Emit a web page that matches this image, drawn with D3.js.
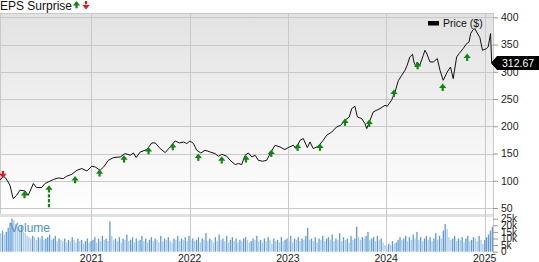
<!DOCTYPE html>
<html><head><meta charset="utf-8">
<script src="https://cdn.jsdelivr.net/npm/d3@7"></script>
<style>body{margin:0;background:#fff;} svg{display:block;font-family:"Liberation Sans",Arial,sans-serif;}</style>
</head><body><svg id="c" width="539" height="262"></svg>
<script>
const priceDates = ["2020-01-27","2020-02-08","2020-02-18","2020-03-04","2020-03-16","2020-03-29","2020-04-10","2020-04-29","2020-05-11","2020-05-30","2020-06-11","2020-06-30","2020-07-12","2020-07-24","2020-08-12","2020-08-30","2020-09-18","2020-10-01","2020-10-20","2020-11-08","2020-11-26","2020-12-15","2021-01-02","2021-01-15","2021-02-02","2021-02-15","2021-03-05","2021-03-24","2021-04-18","2021-05-06","2021-05-25","2021-06-06","2021-06-16","2021-07-01","2021-07-26","2021-08-13","2021-08-26","2021-09-13","2021-10-02","2021-10-20","2021-11-08","2021-11-24","2021-12-09","2021-12-21","2022-01-02","2022-01-15","2022-01-27","2022-02-11","2022-02-27","2022-03-18","2022-04-05","2022-04-18","2022-04-30","2022-05-19","2022-05-31","2022-06-19","2022-07-01","2022-07-13","2022-07-26","2022-08-07","2022-08-20","2022-09-01","2022-09-13","2022-09-29","2022-10-14","2022-10-27","2022-11-14","2022-12-03","2022-12-21","2023-01-02","2023-01-21","2023-01-31","2023-02-15","2023-02-27","2023-03-14","2023-03-24","2023-04-05","2023-04-24","2023-05-12","2023-05-25","2023-06-13","2023-07-01","2023-07-16","2023-08-01","2023-08-17","2023-08-26","2023-09-07","2023-09-16","2023-10-02","2023-10-14","2023-10-21","2023-11-02","2023-11-14","2023-12-09","2023-12-28","2024-01-05","2024-01-21","2024-02-03","2024-02-15","2024-02-28","2024-03-11","2024-03-19","2024-03-29","2024-04-08","2024-04-13","2024-04-21","2024-04-25","2024-05-05","2024-05-18","2024-05-24","2024-05-30","2024-06-12","2024-06-24","2024-07-09","2024-07-19","2024-07-31","2024-08-15","2024-08-27","2024-09-06","2024-09-19","2024-09-28","2024-10-13","2024-10-26","2024-11-04","2024-11-10","2024-11-19","2024-11-26","2024-12-02","2024-12-14","2024-12-24","2025-01-08","2025-01-14","2025-01-23","2025-01-27","2025-02-01"];
const priceValues = [100.9,108.3,104.6,91.7,67.3,73.4,82.6,81.3,73.4,94.9,87.5,87.5,94.9,97.8,102.2,105.1,104.0,108.3,111.9,119.3,122.4,118.0,126.6,125.3,119.3,125.3,137.6,142.6,143.7,149.9,146.8,151.0,142.6,152.8,157.2,169.4,169.4,159.1,151.7,162.0,173.0,169.4,171.2,168.3,173.0,168.3,156.0,151.0,156.0,152.8,149.9,144.9,148.6,144.9,137.6,129.7,131.6,129.7,146.8,151.0,143.7,146.8,137.6,135.8,137.6,149.9,165.1,162.0,157.2,160.9,165.1,159.1,174.3,177.4,160.9,171.2,159.1,163.3,174.3,183.5,189.5,198.7,201.8,211.0,217.1,232.5,236.7,217.1,214.1,205.0,195.8,211.0,226.2,232.5,238.5,236.7,247.7,262.9,283.5,293.6,302.8,311.9,327.2,332.1,318.0,308.8,318.0,311.9,330.3,339.5,334.5,318.0,318.0,324.2,302.8,284.4,299.6,308.8,287.5,327.2,333.4,342.6,351.7,354.7,370.1,377.4,379.3,373.0,363.0,339.5,342.6,345.5,370.1,318.0,312.67];
const volumeStart = "2020-01-27";
const volumeValues = [14,16,13,15,18, 22,25,24,21,19, 17,20,15,14, 12,11,10,12,11,9,11,10,12,9,10, 11,13,9,10,12,8,10, 9,8,10,7,9,8,11,9,7,10,8,9,6,8,10,7, 8,9,11,7,10,8,12,9,10,8,23, 12,9,10,8,11,7,10,9,13,8,9,11,7,10,8,9,12,8,10,7,9,11,8,10,9,7,12,8,10,9,11,8,7,10,9,12,8, 10,9,11,8,12,9,10,8,9,11,7,10,9,14,8,10,9,7,11,8,13,9,10,8,12,7,9,11,8,10,7,9,8,10,11,9,7,8,10,9,12,8,9,7,10,8,11,9,6,10,8,9,7,11,8, 9,10,8,12,7,10,9,11,8,10,9,12,18,9,10,8,11,7,10,9,12,8,10,11,9,13,8,10,9,14,8,11,9,10,7,12,9,10,19,11, 9,11,10,12,15,9,10,11,8,12,9,10, 7,5,4,6,5,8,6,7,9,11, 9,10,12,8,11,9,13,10,15,9,11,8,10,12,9,11,8,10,14,9,12,10, 16,21,17, 11,9,10,12,8,10,9,11,7,10,12,8,9,11,10,8,12,9, 6,9,11,13,16,19];
const beatDates = ["2020-04-27","2020-07-27","2020-11-01","2021-01-31","2021-05-02","2021-08-01","2021-10-30","2022-02-02","2022-04-30","2022-07-29","2022-10-31","2023-02-06","2023-04-30","2023-08-01","2023-10-30","2024-01-30","2024-04-27","2024-07-29","2024-10-28"];
const beatTips = [81.3,91.7,108.8,121.1,146.8,162.0,169.4,149.9,144.9,146.8,157.2,168.3,168.3,214.1,212.3,267.3,318.0,278.3,333.4];
const beatTails = [65.3,50.0,92.8,105.1,130.8,146.0,153.4,133.9,128.9,130.8,141.2,152.3,152.3,198.1,196.3,251.3,302.0,262.3,317.4];
const missDates = ["2020-02-07"];
const missTips = [104.6];
const missTails = [118.0];
const priceTicks = [50,100,150,200,250,300,350,400];
const volumeTicks = [0,5,10,15,20,25];
const yearTicks = ["2021","2022","2023","2024","2025"];
const lastPrice = 312.67;

const parse = d3.timeParse("%Y-%m-%d");
const svg = d3.select("#c");
const W = 493, plotTop = 13, priceBottom = 214, volBottom = 252;
const x = d3.scaleTime().domain([parse("2020-01-27"), parse("2025-02-01")]).range([0, W]);
const y = d3.scaleLinear().domain([50, 400]).range([208, 17.3]);
const yv = d3.scaleLinear().domain([0, 25]).range([251.7, 218.7]);
const grid = "#c9c9c9";

const defs = svg.append("defs");
const lg = defs.append("linearGradient").attr("id","bg").attr("x1",0).attr("y1",0).attr("x2",0).attr("y2",1);
lg.append("stop").attr("offset","0%").attr("stop-color","#e2e2e2");
lg.append("stop").attr("offset","100%").attr("stop-color","#ffffff");
svg.append("rect").attr("x",0).attr("y",plotTop).attr("width",W).attr("height",priceBottom-plotTop).attr("fill","url(#bg)");
svg.append("rect").attr("x",0).attr("y",priceBottom).attr("width",W).attr("height",3).attr("fill","#e1e1e1");

svg.append("g").selectAll("line").data(priceTicks).join("line")
  .attr("x1",0).attr("x2",W).attr("y1",d=>Math.round(y(d))+0.5).attr("y2",d=>Math.round(y(d))+0.5)
  .attr("stroke",grid);
svg.append("line").attr("x1",0).attr("x2",W).attr("y1",plotTop+0.5).attr("y2",plotTop+0.5).attr("stroke",grid);
svg.append("line").attr("x1",0.5).attr("x2",0.5).attr("y1",plotTop).attr("y2",priceBottom).attr("stroke",grid);
const yearDates = yearTicks.map(t=>parse(t+"-01-01"));
svg.append("g").selectAll("line").data(yearDates).join("line")
  .attr("x1",d=>Math.round(x(d))+0.5).attr("x2",d=>Math.round(x(d))+0.5).attr("y1",plotTop).attr("y2",volBottom)
  .attr("stroke",grid);
svg.append("line").attr("x1",W+0.5).attr("x2",W+0.5).attr("y1",plotTop).attr("y2",volBottom).attr("stroke",grid);

const vStart = parse(volumeStart);
const vData = volumeValues.map((v,i)=>({d:d3.timeDay.offset(vStart,7*i), v, up: i>0 && v>volumeValues[i-1]}));
svg.append("g").selectAll("rect").data(vData).join("rect")
  .attr("x",d=>x(d.d)).attr("width",1.3)
  .attr("y",d=>yv(d.v)).attr("height",d=>yv(0)-yv(d.v))
  .attr("fill",d=>d.up?"#5c9bd7":"#a6c8ea");

svg.append("text").attr("x",10).attr("y",232).attr("font-size",12).attr("fill","#4b90d2").text("Volume");

const pData = priceDates.map((d,i)=>({d:parse(d), v:priceValues[i]}));
svg.append("path").datum(pData).attr("fill","none").attr("stroke","#111").attr("stroke-width",1)
  .attr("d", d3.line().x(d=>x(d.d)).y(d=>y(d.v)));

function upArrow(g, cx, tipY, tailY, color){
  g.append("line").attr("x1",cx).attr("x2",cx).attr("y1",tipY+4).attr("y2",tailY)
    .attr("stroke",color).attr("stroke-width",2.2).attr("stroke-dasharray","3.3,1.6");
  g.append("path").attr("d",`M${cx-3.6},${tipY+4.5}L${cx},${tipY}L${cx+3.6},${tipY+4.5}Z`).attr("fill",color);
}
function downArrow(g, cx, tipY, tailY, color){
  g.append("line").attr("x1",cx).attr("x2",cx).attr("y1",tailY).attr("y2",tipY-4)
    .attr("stroke",color).attr("stroke-width",2.2).attr("stroke-dasharray","3.3,1.6");
  g.append("path").attr("d",`M${cx-3.6},${tipY-4.5}L${cx},${tipY}L${cx+3.6},${tipY-4.5}Z`).attr("fill",color);
}
const ag = svg.append("g");
beatDates.forEach((d,i)=>upArrow(ag, x(parse(d)), y(beatTips[i]), y(beatTails[i]), "#0a8a0a"));
missDates.forEach((d,i)=>downArrow(ag, x(parse(d)), y(missTips[i]), y(missTails[i]), "#e8141b"));

svg.append("text").attr("x",0).attr("y",10).attr("font-size",12).attr("fill","#111").text("EPS Surprise");
const tg = svg.append("g");
upArrow(tg, 76.5, 1, 9.5, "#0a8a0a");
downArrow(tg, 86, 9.5, 1, "#e8141b");

svg.append("rect").attr("x",428).attr("y",21).attr("width",11).attr("height",4.5).attr("fill","#000");
svg.append("text").attr("x",443).attr("y",27).attr("font-size",10.5).attr("fill","#111").text("Price ($)");

const ax = svg.append("g").attr("transform",`translate(${W},0)`)
  .call(d3.axisRight(y).tickValues(priceTicks).tickSize(5).tickPadding(3));
ax.select(".domain").remove();
ax.selectAll("line").attr("stroke","#999");
ax.selectAll("text").attr("font-size",10.5).attr("fill","#222").attr("font-family",null);
const av = svg.append("g").attr("transform",`translate(${W},0)`)
  .call(d3.axisRight(yv).tickValues(volumeTicks).tickSize(5).tickPadding(3).tickFormat(d=>d===0?"0":d+"k"));
av.select(".domain").remove();
av.selectAll("line").attr("stroke","#999");
av.selectAll("text").attr("font-size",10).attr("fill","#222").attr("font-family",null);

svg.append("g").selectAll("text").data(yearTicks).join("text")
  .attr("x",(d,i)=>x(yearDates[i])).attr("y",262).attr("text-anchor","middle")
  .attr("font-size",10.5).attr("fill","#222").text(d=>d);

const cy = y(lastPrice) - 2;
svg.append("path").attr("d",`M${W-2},${cy}L${W+4},${cy-7}L539,${cy-7}L539,${cy+7}L${W+4},${cy+7}Z`).attr("fill","#000");
svg.append("text").attr("x",502).attr("y",cy+4).attr("font-size",10.5).attr("fill","#fff").text(lastPrice.toFixed(2));
</script></body></html>
